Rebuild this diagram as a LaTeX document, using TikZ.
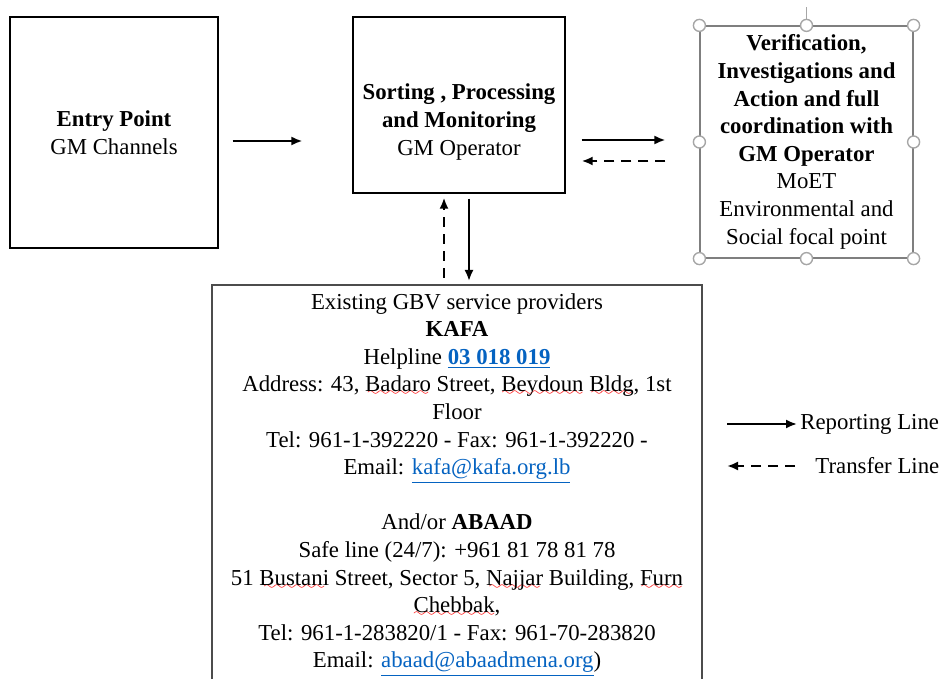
\documentclass[tikz,border=0pt]{standalone}
\usepackage{fontspec}
\setmainfont{Liberation Serif}
\usetikzlibrary{arrows.meta}

\definecolor{linkblue}{HTML}{0563C1}
\definecolor{framegray}{HTML}{7F7F7F}
\definecolor{handlegray}{HTML}{A6A6A6}

\font\wavyfont=lasy6
\newcommand\spellwave[1]{\setbox0\hbox{#1}\rlap{\textcolor{red}{\lower2pt\hbox to\wd0{\cleaders\hbox{\wavyfont\char58}\hfil}}}#1}
\newcommand\linktext[1]{\textcolor{linkblue}{\underline{#1}}}

\tikzset{
  box/.style={draw, line width=0.6pt, inner sep=0pt, align=center},
  report/.style={-{Latex[length=5.5pt,width=4.5pt]}, line width=1pt},
  transfer/.style={report, line width=1.4pt, dash pattern=on 5pt off 3.5pt},
  handle/.style={draw=handlegray, fill=white, line width=0.7pt},
}

\begin{document}
\begin{tikzpicture}[x=0.5pt, y=-0.5pt, font=\fontsize{11.4}{13.8}\selectfont]
\clip (0,0) rectangle (942,679);

\node[box, minimum width=104pt, minimum height=115.5pt] (entry) at (114,132.5) {\textbf{Entry Point}\\GM Channels};
\node[box, minimum width=106pt, minimum height=88pt] (sort) at (459,105) {};
\node[align=center] (sorttext) at (459,122) {\textbf{Sorting , Processing}\\\textbf{and Monitoring}\\GM Operator};
\node[box, draw=framegray, minimum width=106.5pt, minimum height=116pt] (verif) at (806.5,142)
  {\textbf{Verification,}\\\textbf{Investigations and}\\\textbf{Action and full}\\\textbf{coordination with}\\\textbf{GM Operator}\\MoET\\Environmental and\\Social focal point};

% selection frame handles
\draw[handlegray, line width=0.7pt] (verif.north) -- ++(0,-18);
\foreach \a in {north west, north, north east, east, south east, south, south west, west}
    \draw[handle] (verif.\a) circle (3pt);

\node[box, draw=black!70, line width=0.8pt, minimum width=245pt, minimum height=210pt, anchor=north] (gbv) at (457,284) {};
\node[align=center] (gbvtext) at (457,485) {Existing GBV service providers\\
  \textbf{KAFA}\\
  Helpline \linktext{\textbf{03 018 019}}\\
  Address: 43, \spellwave{Badaro} Street, \spellwave{Beydoun} \spellwave{Bldg}, 1st\\
  Floor\\
  Tel: 961-1-392220 - Fax: 961-1-392220 -\\
  Email: \linktext{kafa@kafa.org.lb}\\[13.8pt]
  And/or \textbf{ABAAD}\\
  Safe line (24/7): +961 81 78 81 78\\
  51 \spellwave{Bustani} Street, Sector 5, \spellwave{Najjar} Building, \spellwave{Furn}\\
  \spellwave{Chebbak},\\
  Tel: 961-1-283820/1 - Fax: 961-70-283820\\
  Email: \linktext{abaad@abaadmena.org})};

\node[anchor=west, inner sep=0pt] (replbl) at (800,424) {Reporting Line};
\node[anchor=west, inner sep=0pt] (trflbl) at (815,466) {Transfer Line};

\path
    ([xshift=7pt]entry.east |- 0,141) edge[report] ([xshift=-25pt]sort.west |- 0,141)
    ([xshift=8pt]sort.east |- 0,140) edge[report] ([xshift=-17pt]verif.west |- 0,140)
    ([xshift=-17pt]verif.west |- 0,161) edge[transfer] ([xshift=8pt]sort.east |- 0,161)
    ([xshift=-6.5pt,yshift=3pt]gbv.north) edge[transfer] ([xshift=-7.5pt,yshift=-2pt]sort.south)
    ([xshift=5pt,yshift=-2.5pt]sort.south) edge[report] ([xshift=6pt,yshift=1.5pt]gbv.north)
    ([xshift=-36.5pt]replbl.west) edge[report] ([xshift=-1.5pt]replbl.west)
    ([xshift=-10pt]trflbl.west) edge[transfer] ([xshift=-44pt]trflbl.west);
\end{tikzpicture}
\end{document}
